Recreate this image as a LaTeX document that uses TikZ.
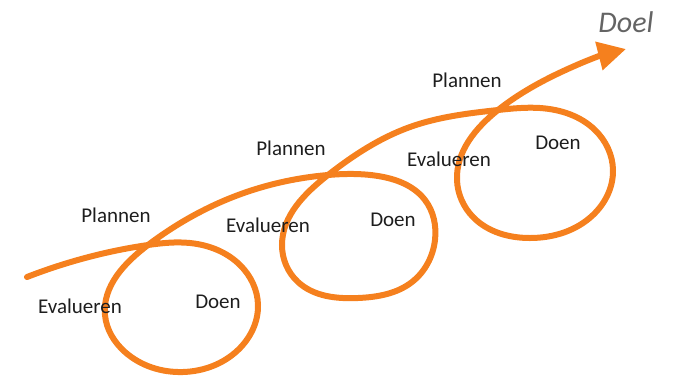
\documentclass[tikz,border=0pt]{standalone}
\usepackage{fontspec}
\setmainfont{Carlito}
\usepackage{tikz}
\usetikzlibrary{arrows.meta,hobby}
\definecolor{cycle}{RGB}{245,128,30}
\definecolor{ink}{RGB}{30,30,30}
\definecolor{pencil}{RGB}{100,100,100}

\begin{document}
\begin{tikzpicture}[x=0.5pt, y=-0.5pt,
    phase/.style={text=ink, font=\fontsize{10.5}{12}\selectfont, inner sep=0pt},
    goal/.style={text=pencil, font=\fontsize{15}{16}\selectfont\itshape, inner sep=0pt},
    spiral/.style={draw=cycle, line width=3pt, line cap=round, -{Triangle[length=14pt,width=14pt]}}
]
    \useasboundingbox (0,0) rectangle (682,377);

    % the spiral with three loops
    \draw[spiral, use Hobby shortcut] (27,277) .. (85,258) .. (148,245)
        .. (190,243) .. (240,265) .. (258,305) .. (238,350) .. (183,372) .. (125,352) .. (105,315) .. (148,245)
        .. (233,197) .. (328,175)
        .. (378,176) .. (425,200) .. (435,240) .. (412,282) .. (358,298) .. (298,282) .. (282,245) .. (328,175)
        .. (410,127) .. (498,110)
        .. (540,108) .. (595,130) .. (613,170) .. (593,215) .. (530,238) .. (473,217) .. (457,180) .. (498,110)
        .. (545,80) .. (626,49);

    % labels
    \node[phase] (plan1) at (116,215) {Plannen};
    \node[phase] (eval1) at (80,306) {Evalueren};
    \node[phase] (doen1) at (218,302) {Doen};
    \node[phase] (plan2) at (291,148) {Plannen};
    \node[phase] (eval2) at (268,225) {Evalueren};
    \node[phase] (doen2) at (393,220) {Doen};
    \node[phase] (plan3) at (467,80) {Plannen};
    \node[phase] (eval3) at (449,159) {Evalueren};
    \node[phase] (doen3) at (558,143) {Doen};
    \node[goal] (doel) at (626,22) {Doel};
\end{tikzpicture}
\end{document}
